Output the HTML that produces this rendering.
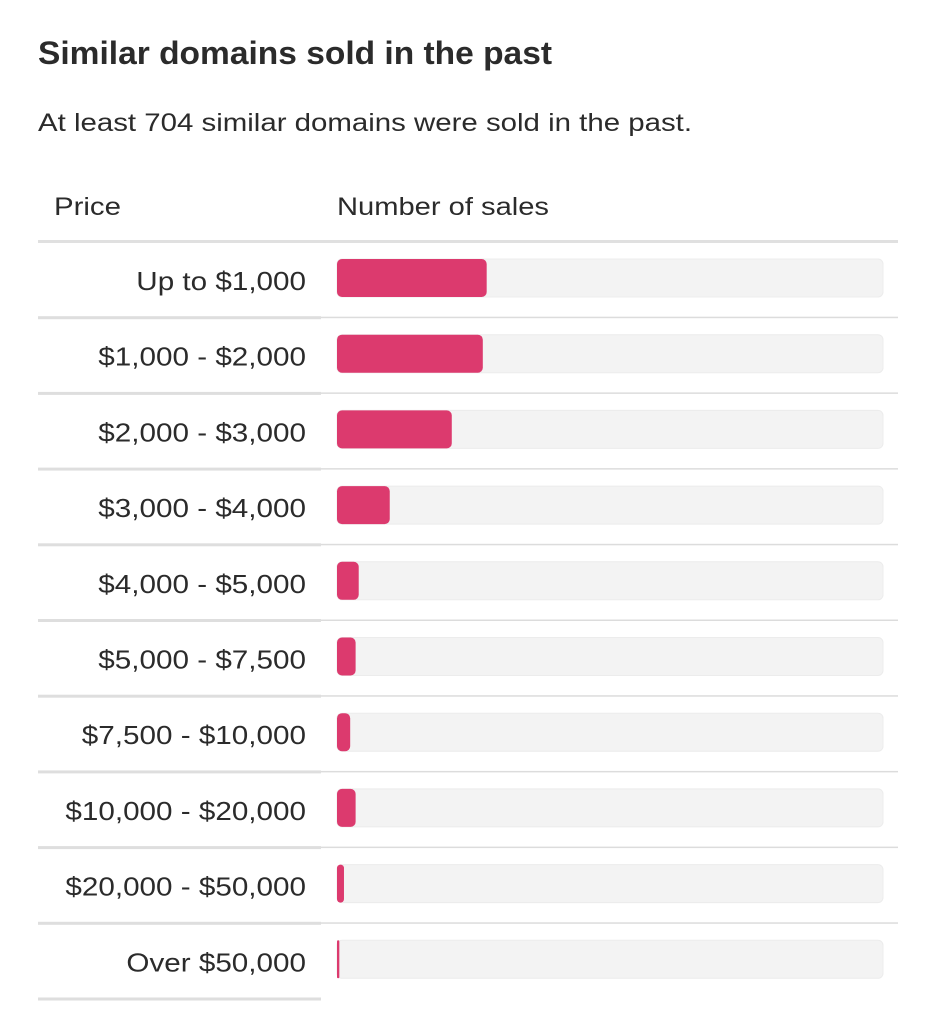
<!DOCTYPE html>
<html><head><meta charset="utf-8"><style>
html,body{margin:0;padding:0;background:#fff;width:931px;height:1024px;overflow:hidden}
svg{display:block;font-family:"Liberation Sans",sans-serif}
</style></head><body>
<svg id="chart" width="931" height="1024" viewBox="0 0 931 1024">
<text x="38" y="64" font-size="32" font-weight="bold" fill="#2b2b2b" textLength="514" lengthAdjust="spacingAndGlyphs">Similar domains sold in the past</text>
<text x="38" y="131" font-size="25" fill="#2b2b2b" textLength="654" lengthAdjust="spacingAndGlyphs">At least 704 similar domains were sold in the past.</text>
<text x="54" y="215" font-size="25" fill="#2b2b2b" textLength="67" lengthAdjust="spacingAndGlyphs">Price</text>
<text x="337" y="215" font-size="25" fill="#2b2b2b" textLength="212" lengthAdjust="spacingAndGlyphs">Number of sales</text>
<rect x="38" y="240" width="860" height="3" fill="#e0e0e0"/>
<g id="rows"></g>
</svg>
<script>
const categories = ["Up to $1,000","$1,000 - $2,000","$2,000 - $3,000","$3,000 - $4,000","$4,000 - $5,000","$5,000 - $7,500","$7,500 - $10,000","$10,000 - $20,000","$20,000 - $50,000","Over $50,000"];
const sales = [193, 188, 148, 68, 28, 24, 17, 24, 9, 3];
const totalSales = 704;

const NS = "http://www.w3.org/2000/svg";
const g = document.getElementById("rows");
const rowTop = 242, rowH = 75.7, trackX = 337, trackW = 546;
const maxVal = Math.max(totalSales, sales.reduce((a,b)=>a+b,0));
function xScale(v){ return v / maxVal * trackW; }
function mk(tag, attrs){ const e = document.createElementNS(NS, tag); for (const k in attrs) e.setAttribute(k, attrs[k]); g.appendChild(e); return e; }

categories.forEach((cat, i) => {
  const y0 = rowTop + rowH * i;
  const label = mk("text", {x: 306, y: y0 + 48, "font-size": 26, fill: "#2b2b2b", "text-anchor": "end"});
  
  
  label.textContent = cat;
  const nat = label.getComputedTextLength();
  if (nat > 0) { label.setAttribute("textLength", (nat * 1.14).toFixed(1)); label.setAttribute("lengthAdjust", "spacingAndGlyphs"); }
  const track = mk("rect", {x: trackX, y: y0 + 17, width: trackW, height: 38, rx: 5, fill: "#f3f3f3", stroke: "#ececec", "stroke-width": 1});
  
  
  const w = Math.max(xScale(sales[i]), 2);
  const bar = mk("rect", {x: trackX, y: y0 + 17, width: w, height: 38, rx: Math.min(5, w/2), fill: "#dc3a6e"});
  
  
  const yl = y0 + rowH;
  const dl = mk("rect", {x: 38, y: yl - 1.5, width: 283, height: 3, fill: "#dedede"});
  
  
  if (i < categories.length - 1) {
    const dr = mk("rect", {x: 321, y: yl - 1, width: 577, height: 1.5, fill: "#dcdcdc"});
    
    
  }
});
</script>
</body></html>
